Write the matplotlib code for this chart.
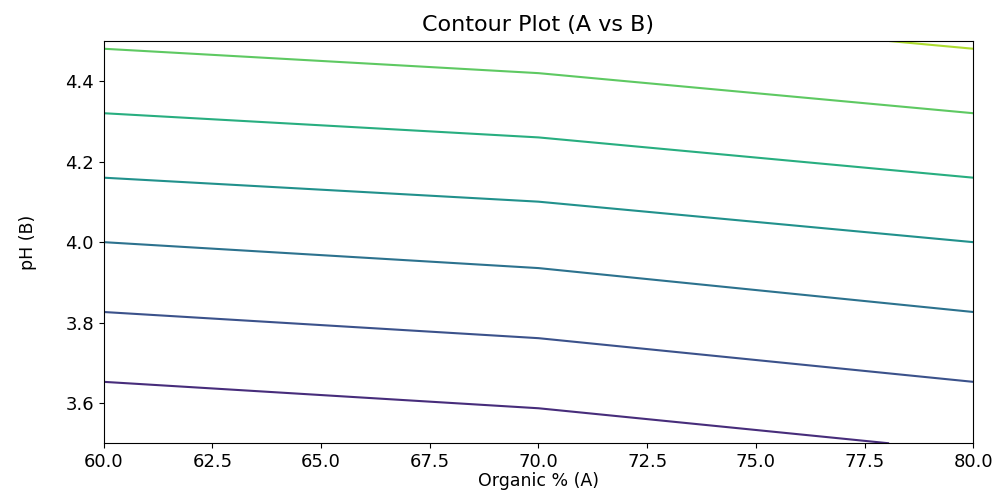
import numpy as np
import matplotlib
matplotlib.use("Agg")
import matplotlib.pyplot as plt

# Grid of the design (Organic % A, pH B)
organic = [60.0, 70.0, 80.0]
ph = [3.5, 4.0, 4.5]
# Response values: rows follow pH, columns follow Organic %
response = [
    [0.12, 0.50, 1.12],   # pH 3.5
    [3.00, 3.37, 4.00],   # pH 4.0
    [6.12, 6.50, 7.12],   # pH 4.5
]

title = "Contour Plot (A vs B)"
xlabel = "Organic % (A)"
ylabel = "pH (B)"
xticks = [60.0, 62.5, 65.0, 67.5, 70.0, 72.5, 75.0, 77.5, 80.0]
yticks = [3.6, 3.8, 4.0, 4.2, 4.4]

fig = plt.figure(figsize=(10.01, 4.9), dpi=100)
ax = fig.add_axes([0.1036, 0.0953, 0.8687, 0.8210])
X, Y = np.meshgrid(organic, ph)
Z = np.array(response)
ax.contour(X, Y, Z, cmap="viridis", linewidths=1.5)
ax.set_xticks(xticks)
ax.set_xticklabels([f"{v:.1f}" for v in xticks])
ax.set_yticks(yticks)
ax.set_yticklabels([f"{v:.1f}" for v in yticks])
ax.tick_params(labelsize=13)
ax.set_title(title, fontsize=16, pad=7)
ax.set_xlabel(xlabel, fontsize=12.5, labelpad=1)
ax.set_ylabel(ylabel, fontsize=12.5, labelpad=20)
fig.savefig("out.png", dpi=100)
